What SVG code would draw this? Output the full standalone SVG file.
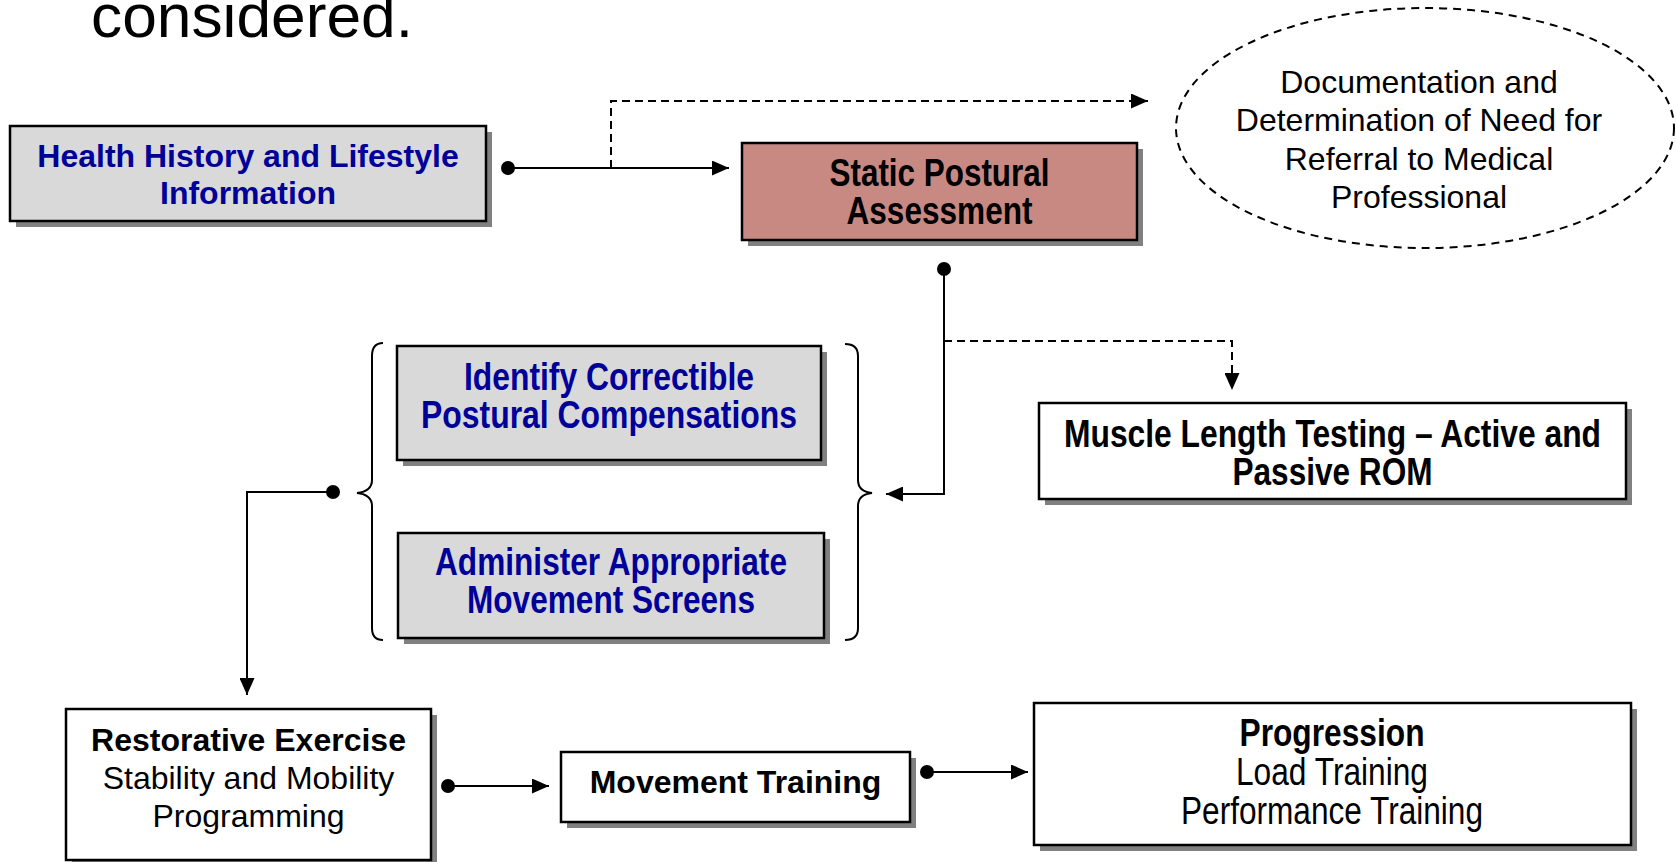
<svg xmlns="http://www.w3.org/2000/svg" width="1677" height="862" viewBox="0 0 1677 862">
<style>
.shadow{fill:#808080}
.box{stroke:#000;stroke-width:2.5}
.grey{fill:#d9d9d9}
.white{fill:#ffffff}
.rose{fill:#c98983}
.reg{font-family:"Liberation Sans",Arial,sans-serif;font-size:32px;fill:#000;text-anchor:middle}
.b{font-weight:bold}
.nar{font-family:"Liberation Sans Narrow","Arial Narrow","Liberation Sans",sans-serif;font-stretch:condensed;font-size:38px;fill:#000;text-anchor:middle}
.blue{fill:#000099}
.ln{fill:none;stroke:#000;stroke-width:2}
.dash{stroke-dasharray:8 5}
.dot{fill:#000}
</style>
<defs>
<marker id="arr" markerUnits="userSpaceOnUse" markerWidth="17" markerHeight="15" refX="17" refY="7.5" orient="auto">
<path d="M0,0 L17,7.5 L0,15 z" fill="#000"/>
</marker>
</defs>

<text x="91" y="37" font-family="Liberation Sans, Arial, sans-serif" font-size="61" textLength="322" lengthAdjust="spacingAndGlyphs" fill="#000">considered.</text>

<g id="health">
<rect class="shadow" x="16" y="132" width="476" height="95"/>
<rect class="box grey" x="10" y="126" width="476" height="95"/>
<text class="reg b blue" x="248" y="167">Health History and Lifestyle</text>
<text class="reg b blue" x="248" y="204">Information</text>
</g>

<g id="static">
<rect class="shadow" x="748" y="149" width="395" height="97"/>
<rect class="box rose" x="742" y="143" width="395" height="97"/>
<text class="nar b" x="939.5" y="186" textLength="220" lengthAdjust="spacingAndGlyphs">Static Postural</text>
<text class="nar b" x="939.5" y="224" textLength="186" lengthAdjust="spacingAndGlyphs">Assessment</text>
</g>

<g id="documentation">
<ellipse cx="1425" cy="128" rx="249" ry="120" fill="none" stroke="#000" stroke-width="2" stroke-dasharray="8 6"/>
<text class="reg" x="1419" y="92.5">Documentation and</text>
<text class="reg" x="1419" y="131">Determination of Need for</text>
<text class="reg" x="1419" y="169.5">Referral to Medical</text>
<text class="reg" x="1419" y="208">Professional</text>
</g>

<g id="identify">
<rect class="shadow" x="403" y="352" width="424" height="114"/>
<rect class="box grey" x="397" y="346" width="424" height="114"/>
<text class="nar b blue" x="609" y="390" textLength="290" lengthAdjust="spacingAndGlyphs">Identify Correctible</text>
<text class="nar b blue" x="609" y="428" textLength="376" lengthAdjust="spacingAndGlyphs">Postural Compensations</text>
</g>

<g id="administer">
<rect class="shadow" x="404" y="539" width="426" height="105"/>
<rect class="box grey" x="398" y="533" width="426" height="105"/>
<text class="nar b blue" x="611" y="575" textLength="352" lengthAdjust="spacingAndGlyphs">Administer Appropriate</text>
<text class="nar b blue" x="611" y="613" textLength="288" lengthAdjust="spacingAndGlyphs">Movement Screens</text>
</g>

<g id="braces">
<path class="ln" d="M383,343 C375,343 372,348 372,356 L372,480 C372,488 366,492 357,493 C366,494 372,498 372,506 L372,628 C372,636 375,640 383,640"/>
<path class="ln" d="M845,344 C853,344 858,348 858,356 L858,480 C858,488 863,492 872,493 C863,494 858,498 858,506 L858,628 C858,636 853,640 845,640"/>
</g>

<g id="muscle">
<rect class="shadow" x="1045" y="409" width="587" height="96"/>
<rect class="box white" x="1039" y="403" width="587" height="96"/>
<text class="nar b" x="1332.5" y="447" textLength="537" lengthAdjust="spacingAndGlyphs">Muscle Length Testing – Active and</text>
<text class="nar b" x="1332.5" y="485" textLength="200" lengthAdjust="spacingAndGlyphs">Passive ROM</text>
</g>

<g id="restorative">
<rect class="shadow" x="72" y="715" width="365" height="151"/>
<rect class="box white" x="66" y="709" width="365" height="151"/>
<text class="reg b" x="248.5" y="751">Restorative Exercise</text>
<text class="reg" x="248.5" y="789">Stability and Mobility</text>
<text class="reg" x="248.5" y="827">Programming</text>
</g>

<g id="movement">
<rect class="shadow" x="567" y="758" width="349" height="70"/>
<rect class="box white" x="561" y="752" width="349" height="70"/>
<text class="reg b" x="735.5" y="793">Movement Training</text>
</g>

<g id="progression">
<rect class="shadow" x="1040" y="709" width="597" height="142"/>
<rect class="box white" x="1034" y="703" width="597" height="142"/>
<text class="nar b" x="1332" y="746" textLength="185" lengthAdjust="spacingAndGlyphs">Progression</text>
<text class="nar" x="1332" y="785" textLength="192" lengthAdjust="spacingAndGlyphs">Load Training</text>
<text class="nar" x="1332" y="824" textLength="302" lengthAdjust="spacingAndGlyphs">Performance Training</text>
</g>

<g id="connectors">
<circle class="dot" cx="508" cy="168" r="7"/>
<path class="ln" d="M508,168 L729,168" marker-end="url(#arr)"/>
<path class="ln dash" d="M611,168 L611,101 L1148,101" marker-end="url(#arr)"/>
<circle class="dot" cx="944" cy="269" r="7"/>
<path class="ln" d="M944,269 L944,494 L886,494" marker-end="url(#arr)"/>
<path class="ln dash" d="M944,341 L1232,341 L1232,390" marker-end="url(#arr)"/>
<circle class="dot" cx="333" cy="492" r="7"/>
<path class="ln" d="M333,492 L247,492 L247,695" marker-end="url(#arr)"/>
<circle class="dot" cx="448" cy="786" r="7"/>
<path class="ln" d="M448,786 L549,786" marker-end="url(#arr)"/>
<circle class="dot" cx="927" cy="772" r="7"/>
<path class="ln" d="M927,772 L1028,772" marker-end="url(#arr)"/>
</g>
</svg>
